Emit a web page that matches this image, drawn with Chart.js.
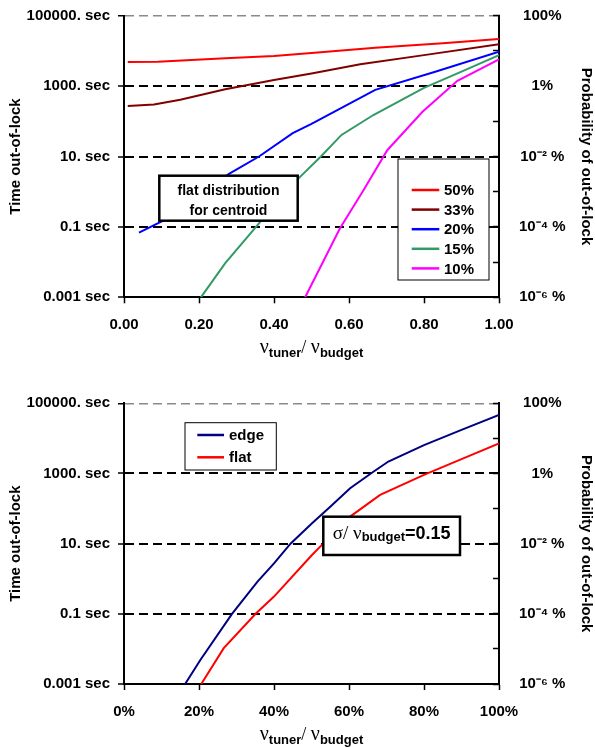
<!DOCTYPE html>
<html><head><meta charset="utf-8">
<script src="https://cdn.jsdelivr.net/npm/chart.js@4.4.1/dist/chart.umd.min.js"></script>
<style>
html,body{margin:0;padding:0;background:#fff;}
canvas{position:absolute;left:0;}
#c1{top:0;}
#c2{top:370px;}
</style></head><body>
<canvas id="c1" width="595" height="370"></canvas>
<canvas id="c2" width="595" height="378"></canvas>
<script>
// ---------- DATA ----------
// Top chart: flat distribution for centroid, x = nu_tuner / nu_budget, y = time out-of-lock (sec)
const seriesLabelsTop = ['50%', '33%', '20%', '15%', '10%'];
const x50 = [0.01, 0.09, 0.27, 0.40, 0.50, 0.67, 0.85, 1.00];
const t50 = [4800, 4900, 6200, 7200, 8700, 12300, 16600, 21900];
const x33 = [0.01, 0.08, 0.15, 0.27, 0.40, 0.50, 0.63, 0.80, 1.00];
const t33 = [270, 300, 410, 810, 1480, 2290, 4170, 7590, 15500];
const x20 = [0.04, 0.11, 0.28, 0.36, 0.45, 0.50, 0.67, 0.83, 1.00];
const t20 = [0.069, 0.16, 3.2, 10, 46, 85, 780, 2570, 9550];
const x15 = [0.205, 0.27, 0.36, 0.40, 0.46, 0.525, 0.58, 0.665, 0.80, 0.90, 1.00];
const t15 = [0.001, 0.0093, 0.126, 0.47, 2.1, 10, 41, 151, 890, 2570, 7590];
const x10 = [0.483, 0.576, 0.639, 0.702, 0.796, 0.889, 1.00];
const t10 = [0.001, 0.091, 1.12, 15.1, 186, 1410, 5750];

// Bottom chart: sigma/nu_budget = 0.15, x in %
const seriesLabelsBottom = ['edge', 'flat'];
const xEdge = [16.3, 20.4, 28.8, 35.6, 40, 44.4, 50, 55, 60.3, 66.5, 70.5, 80, 90, 100];
const tEdge = [0.001, 0.0049, 0.1, 0.83, 2.75, 10, 37, 112, 380, 1120, 2190, 6460, 17400, 46800];
const xFlat = [20.6, 26.6, 35.1, 40, 50, 53.1, 60.3, 68.3, 80, 90, 100];
const tFlat = [0.001, 0.0105, 0.1, 0.31, 4.6, 10, 59, 245, 912, 2570, 7240];

// Tick values / labels
const timeTickVals = [0.001, 0.1, 10, 1000, 100000];
const timeTickLabels = ['0.001 sec', '0.1 sec', '10. sec', '1000. sec', '100000. sec'];
const probTickVals = [1e-6, 1e-5, 1e-4, 1e-3, 1e-2, 1e-1, 1, 10, 100];
const probTickLabels = ['10\u207B\u2076 %', '', '10\u207B\u2074 %', '', '10\u207B\u00B2 %', '', '1%', '', '100%'];
const xTickValsTop = [0, 0.2, 0.4, 0.6, 0.8, 1.0];
const xTickLabelsTop = ['0.00', '0.20', '0.40', '0.60', '0.80', '1.00'];
const xTickValsBottom = [0, 20, 40, 60, 80, 100];
const xTickLabelsBottom = ['0%', '20%', '40%', '60%', '80%', '100%'];

// ---------- STYLE ----------
const SANS = '"Liberation Sans", Arial, Helvetica, sans-serif';
const SERIF = '"Liberation Serif", "Times New Roman", serif';
Chart.defaults.font.family = SANS;
Chart.defaults.font.weight = 'bold';
Chart.defaults.font.size = 15;
Chart.defaults.color = '#000';

const pts = (xs, ys) => xs.map((x, i) => ({x: x, y: ys[i]}));

// Legend in a box (drawn from the datasets)
const boxLegend = {
  id: 'boxLegend',
  afterDraw(chart, args, o) {
    if (!o || !o.rect) return;
    const ctx = chart.ctx; ctx.save();
    const r = o.rect;
    ctx.fillStyle = '#fff'; ctx.fillRect(r[0], r[1], r[2] - r[0], r[3] - r[1]);
    ctx.strokeStyle = '#000'; ctx.lineWidth = 1; ctx.strokeRect(r[0], r[1], r[2] - r[0], r[3] - r[1]);
    chart.data.datasets.forEach((ds, i) => {
      const y = o.rowY + i * o.rowGap;
      ctx.strokeStyle = ds.borderColor; ctx.lineWidth = 2.5;
      ctx.beginPath(); ctx.moveTo(o.lineX[0], y); ctx.lineTo(o.lineX[1], y); ctx.stroke();
      ctx.fillStyle = '#000'; ctx.font = 'bold 15px ' + SANS;
      ctx.textBaseline = 'middle'; ctx.textAlign = 'left';
      ctx.fillText(ds.label, o.textX, y + 1);
    });
    ctx.restore();
  }
};

function drawSegs(ctx, segs, cx, baseY) {
  let total = 0;
  segs.forEach(s => { ctx.font = s.f; s.w = ctx.measureText(s.t).width; total += s.w; });
  let x = cx - total / 2;
  ctx.textAlign = 'left'; ctx.textBaseline = 'alphabetic'; ctx.fillStyle = '#000';
  segs.forEach(s => { ctx.font = s.f; ctx.fillText(s.t, x, baseY + (s.dy || 0)); x += s.w; });
}

const textBox = {
  id: 'textBox',
  afterDraw(chart, args, o) {
    if (!o || !o.rect) return;
    const ctx = chart.ctx; ctx.save();
    const r = o.rect;
    ctx.fillStyle = '#fff'; ctx.fillRect(r[0], r[1], r[2] - r[0], r[3] - r[1]);
    ctx.strokeStyle = '#000'; ctx.lineWidth = 2.5; ctx.strokeRect(r[0], r[1], r[2] - r[0], r[3] - r[1]);
    const cx = (r[0] + r[2]) / 2;
    o.lines.forEach(l => drawSegs(ctx, l.segs, cx, l.y));
    ctx.restore();
  }
};

const xTitle = {
  id: 'xTitle',
  afterDraw(chart, args, o) {
    if (!o || !o.segs) return;
    const ctx = chart.ctx; ctx.save();
    const ca = chart.chartArea;
    drawSegs(ctx, o.segs, (ca.left + ca.right) / 2, ca.bottom + o.offset);
    ctx.restore();
  }
};

Chart.register(boxLegend, textBox, xTitle);

const nuTitleSegs = () => [
  {t: '\u03BD', f: '20px ' + SERIF},
  {t: 'tuner', f: 'bold 13px ' + SANS, dy: 4},
  {t: '/ ', f: '18px ' + SERIF},
  {t: '\u03BD', f: '20px ' + SERIF},
  {t: 'budget', f: 'bold 13px ' + SANS, dy: 4}
];

function makeChart(id, datasets, o) {
  return new Chart(document.getElementById(id), {
    type: 'line',
    data: {datasets: datasets},
    options: {
      responsive: false, animation: false, events: [],
      layout: {padding: {top: o.padTop, left: 0, right: 0, bottom: 0}},
      elements: {point: {radius: 0}, line: {borderWidth: 2, tension: 0}},
      plugins: {
        legend: {display: false}, tooltip: {enabled: false},
        boxLegend: o.legend, textBox: o.box,
        xTitle: {segs: nuTitleSegs(), offset: 56}
      },
      scales: {
        x: {
          type: 'linear', position: 'bottom', min: o.xMin, max: o.xMax,
          afterBuildTicks: s => { s.ticks = o.xVals.map(v => ({value: v})); },
          afterFit: s => { s.height = o.xAxisH; s.paddingLeft = 0; s.paddingRight = 0; },
          ticks: {autoSkip: false, maxRotation: 0, padding: 13, callback: (v, i) => o.xLabels[i]},
          grid: {drawOnChartArea: false, tickLength: 6, tickColor: '#000', tickWidth: 1.5},
          border: {color: '#000', width: 2}
        },
        y: {
          type: 'logarithmic', position: 'left', min: 0.001, max: 100000,
          afterBuildTicks: s => { s.ticks = timeTickVals.map(v => ({value: v})); },
          afterFit: s => { s.width = 124; s.paddingTop = 0; s.paddingBottom = 0; },
          ticks: {autoSkip: false, padding: 8, callback: (v, i) => timeTickLabels[i]},
          grid: {
            color: c => (c.tick && c.tick.value > 50000) ? '#8a8a8a' : '#000',
            lineWidth: c => (c.tick && c.tick.value > 50000) ? 1.5 : 2,
            tickLength: 6, tickColor: '#000', tickWidth: 1.5, tickBorderDash: []
          },
          border: {color: '#000', width: 2, dash: [9, 5]},
          title: {display: true, text: 'Time out-of-lock', font: {size: 15, weight: 'bold'}, padding: {top: 7, bottom: 0}}
        },
        y2: {
          type: 'logarithmic', position: 'right', min: 1e-6, max: 100,
          afterBuildTicks: s => { s.ticks = probTickVals.map(v => ({value: v})); },
          afterFit: s => { s.width = 96; s.paddingTop = 0; s.paddingBottom = 0; },
          ticks: {autoSkip: false, padding: 26, crossAlign: 'center', callback: (v, i) => probTickLabels[i]},
          grid: {drawOnChartArea: false, tickLength: -6, tickColor: '#000', tickWidth: 1.5},
          border: {color: '#000', width: 2},
          title: {display: true, text: 'Probability of out-of-lock', font: {size: 15, weight: 'bold'}, padding: {top: 0, bottom: 0}}
        }
      }
    }
  });
}

makeChart('c1', [
  {label: seriesLabelsTop[0], data: pts(x50, t50), borderColor: '#FF0000'},
  {label: seriesLabelsTop[1], data: pts(x33, t33), borderColor: '#800000'},
  {label: seriesLabelsTop[2], data: pts(x20, t20), borderColor: '#0000FF'},
  {label: seriesLabelsTop[3], data: pts(x15, t15), borderColor: '#339966'},
  {label: seriesLabelsTop[4], data: pts(x10, t10), borderColor: '#FF00FF'}
], {
  padTop: 15.7, xAxisH: 72.7, xMin: 0, xMax: 1, xVals: xTickValsTop, xLabels: xTickLabelsTop,
  legend: {rect: [398, 159, 489, 280], rowY: 190, rowGap: 19.6, lineX: [411.7, 439.3], textX: 444},
  box: {rect: [159.3, 175.7, 297.7, 220.7], lines: [
    {y: 195, segs: [{t: 'flat distribution', f: 'bold 14px ' + SANS}]},
    {y: 215, segs: [{t: 'for centroid', f: 'bold 14px ' + SANS}]}
  ]}
});

makeChart('c2', [
  {label: seriesLabelsBottom[0], data: pts(xEdge, tEdge), borderColor: '#000080'},
  {label: seriesLabelsBottom[1], data: pts(xFlat, tFlat), borderColor: '#FF0000'}
], {
  padTop: 33.3, xAxisH: 64, xMin: 0, xMax: 100, xVals: xTickValsBottom, xLabels: xTickLabelsBottom,
  legend: {rect: [185, 52.7, 276.3, 100], rowY: 65, rowGap: 22.3, lineX: [197.3, 224], textX: 229},
  box: {rect: [323.3, 146.7, 460, 185], lines: [
    {y: 169.3, segs: [
      {t: '\u03C3/ ', f: '19px ' + SERIF},
      {t: '\u03BD', f: '19px ' + SERIF},
      {t: 'budget', f: 'bold 13px ' + SANS, dy: 2},
      {t: '=0.15', f: 'bold 18px ' + SANS}
    ]}
  ]}
});
</script>
</body></html>
